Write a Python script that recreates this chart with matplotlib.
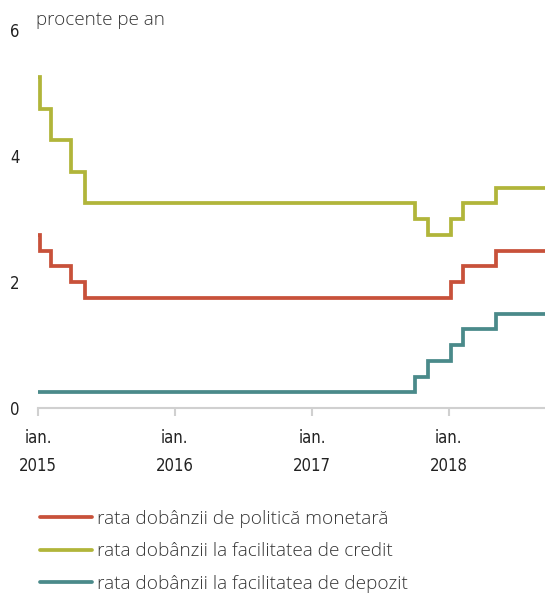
import matplotlib
matplotlib.use("Agg")
import matplotlib.pyplot as plt
import pandas as pd
from matplotlib import font_manager as fm

dates = ['2015-01-01', '2015-01-07', '2015-02-04', '2015-03-31', '2015-05-06',
         '2017-10-03', '2017-11-07', '2018-01-08', '2018-02-07', '2018-05-07',
         '2018-09-15']
policy = [2.75, 2.50, 2.25, 2.00, 1.75, 1.75, 1.75, 2.00, 2.25, 2.50, 2.50]
lending = [5.25, 4.75, 4.25, 3.75, 3.25, 3.00, 2.75, 3.00, 3.25, 3.50, 3.50]
deposit = [0.25, 0.25, 0.25, 0.25, 0.25, 0.50, 0.75, 1.00, 1.25, 1.50, 1.50]
labels = ['rata dobânzii de politică monetară',
          'rata dobânzii la facilitatea de credit',
          'rata dobânzii la facilitatea de depozit']
colors = ['#c8513a', '#b1b53a', '#4a8a8a']
yticks = [0, 2, 4, 6]
xtick_dates = ['2015-01-01', '2016-01-01', '2017-01-01', '2018-01-01']
xtick_labels = ['ian.\n2015', 'ian.\n2016', 'ian.\n2017', 'ian.\n2018']

d = pd.to_datetime(dates)

fig = plt.figure(figsize=(5.45, 5.96), dpi=100)
ax = fig.add_axes([38/545, 188/596, 1 - 38/545, (408-30)/596])

for vals, lab, c in zip([policy, lending, deposit], labels, colors):
    ax.plot(d, vals, drawstyle='steps-post', color=c, lw=2.7, label=lab,
            solid_joinstyle='miter', solid_capstyle='round')

ax.set_ylim(0, 6)
ax.set_xlim(pd.Timestamp('2015-01-01'), pd.Timestamp('2018-09-15'))
for s in ['top', 'right', 'left']:
    ax.spines[s].set_visible(False)
ax.spines['bottom'].set_color('#d0d0d0')
ax.spines['bottom'].set_linewidth(1.5)
ax.spines['bottom'].set_zorder(0)

tickprop = fm.FontProperties(family=['DejaVu Sans'], stretch='condensed', size=12)
ax.set_yticks(yticks)
ax.set_yticklabels([str(v) for v in yticks], fontproperties=tickprop, color='#222222')
ax.tick_params(axis='y', length=0, pad=20)
for t in ax.get_yticklabels():
    t.set_horizontalalignment('left')

ax.set_xticks(pd.to_datetime(xtick_dates))
ax.set_xticklabels(xtick_labels, linespacing=1.75, fontproperties=tickprop, color='#222222')
ax.tick_params(axis='x', length=6, width=1.5, color='#d0d0d0', pad=9)

titleprop = fm.FontProperties(family=['Open Sans', 'DejaVu Sans'], weight='light', size=13.6)
fig.text(36/545, 1 - 20/596, 'procente pe an', fontproperties=titleprop, color='#363636',
         va='center', ha='left')

legprop = fm.FontProperties(family=['Open Sans', 'DejaVu Sans'], weight='light', size=13.7)
leg = fig.legend(loc='upper left', bbox_to_anchor=(23/545, 1 - 493/596),
                 frameon=False, prop=legprop,
                 handlelength=2.73, handletextpad=0.26, labelspacing=0.75)
for t in leg.get_texts():
    t.set_color('#363636')

fig.savefig('out.png', dpi=100)
